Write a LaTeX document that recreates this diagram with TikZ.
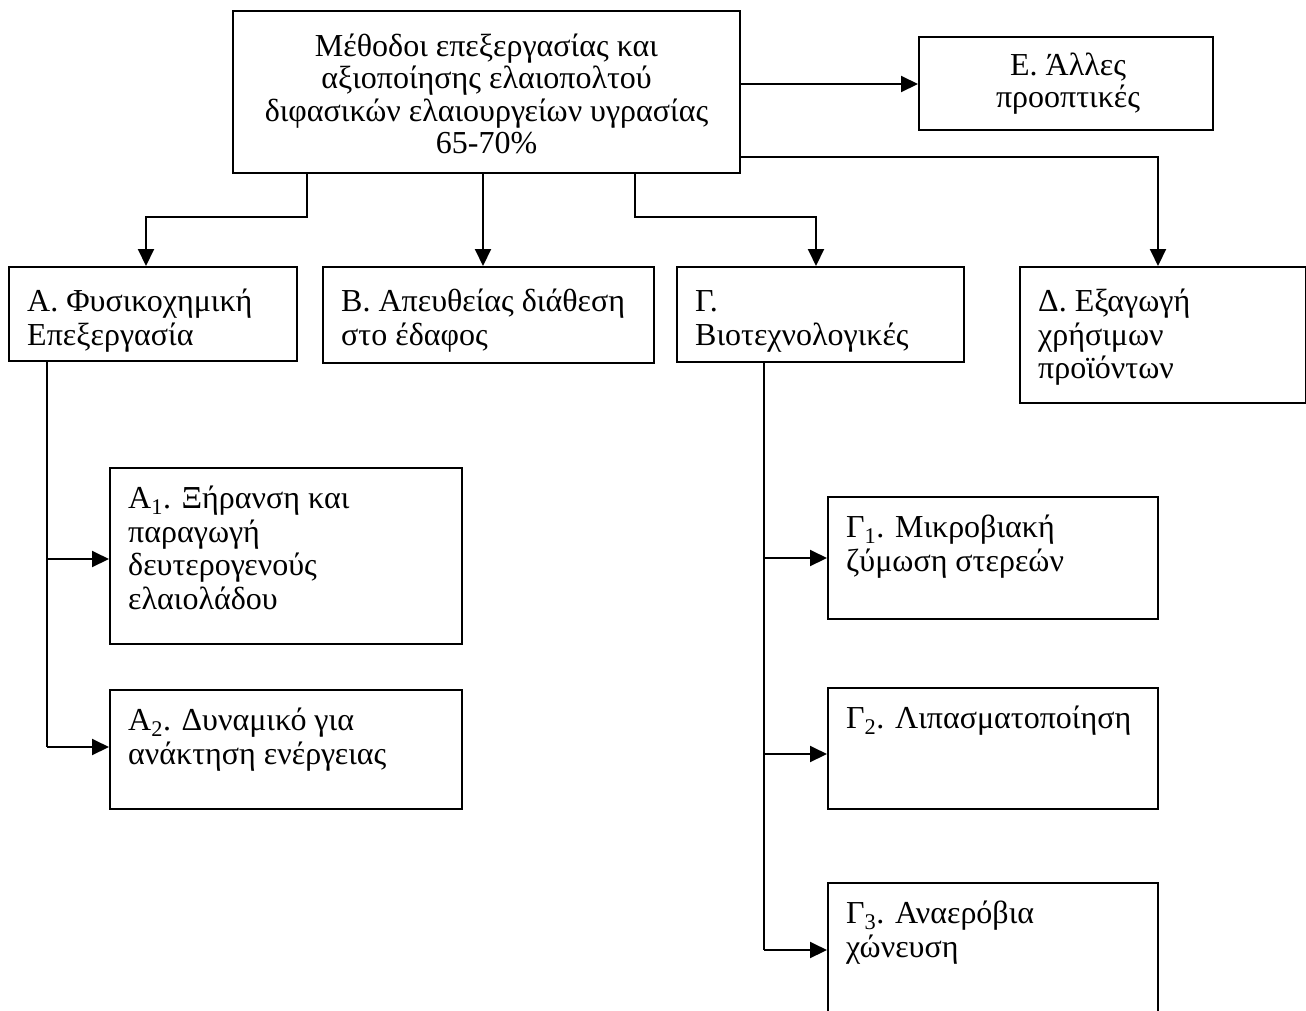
\documentclass[tikz,border=0pt]{standalone}
\usepackage{fontspec}
\setmainfont{Liberation Serif}
\usetikzlibrary{arrows.meta,calc}
\newcommand\fl{\rule{0pt}{27pt}}
\begin{document}
\begin{tikzpicture}[x=1pt,y=-1pt,
  bx/.style={draw,line width=2pt,rectangle,inner sep=0pt,anchor=north west},
  tx/.style={anchor=north west,align=left,inner sep=0pt,font=\fontsize{32}{33.8}\selectfont},
  ctx/.style={align=center,inner sep=0pt,font=\fontsize{32}{32.5}\selectfont},
  ln/.style={line width=2pt},
  arr/.style={ln,-{Triangle[length=17pt,width=16pt]}}]
\useasboundingbox (0,0) rectangle (1306,1010);
\clip (0,0) rectangle (1306,1010);

% boxes
\node[bx,minimum width=507pt,minimum height=162pt] (top) at (232,10) {};
\node[bx,minimum width=294pt,minimum height=93pt] (E) at (918,36) {};
\node[bx,minimum width=288pt,minimum height=94pt] (A) at (8,266) {};
\node[bx,minimum width=331pt,minimum height=96pt] (B) at (322,266) {};
\node[bx,minimum width=287pt,minimum height=95pt] (G) at (676,266) {};
\node[bx,minimum width=286pt,minimum height=136pt] (D) at (1019,266) {};
\node[bx,minimum width=352pt,minimum height=176pt] (A1) at (109,467) {};
\node[bx,minimum width=352pt,minimum height=119pt] (A2) at (109,689) {};
\node[bx,minimum width=330pt,minimum height=122pt] (G1) at (827,496) {};
\node[bx,minimum width=330pt,minimum height=121pt] (G2) at (827,687) {};
\node[bx,minimum width=330pt,minimum height=160pt] (G3) at (827,882) {};

% texts
\node[ctx] (topt) at ($(top.center)+(0,2)$) {Μέθοδοι επεξεργασίας και\\αξιοποίησης ελαιοπολτού\\διφασικών ελαιουργείων υγρασίας\\65-70\%};
\node[ctx] (Et) at ($(E.center)+(2,0)$) {Ε. Άλλες\\προοπτικές};
\node[tx] (At) at ($(A.north west)+(19,18)$) {\fl Α. Φυσικοχημική\\Επεξεργασία};
\node[tx] (Bt) at ($(B.north west)+(19,18)$) {\fl Β. Απευθείας διάθεση\\στο έδαφος};
\node[tx] (Gt) at ($(G.north west)+(19,18)$) {\fl Γ.\\Βιοτεχνολογικές};
\node[tx] (Dt) at ($(D.north west)+(19,18)$) {\fl Δ. Εξαγωγή\\χρήσιμων\\προϊόντων};
\node[tx] (A1t) at ($(A1.north west)+(19,14)$) {\fl Α\textsubscript{1}. Ξήρανση και\\παραγωγή\\δευτερογενούς\\ελαιολάδου};
\node[tx] (A2t) at ($(A2.north west)+(19,14)$) {\fl Α\textsubscript{2}. Δυναμικό για\\ανάκτηση ενέργειας};
\node[tx] (G1t) at ($(G1.north west)+(19,14)$) {\fl Γ\textsubscript{1}. Μικροβιακή\\ζύμωση στερεών};
\node[tx] (G2t) at ($(G2.north west)+(19,14)$) {\fl Γ\textsubscript{2}. Λιπασματοποίηση};
\node[tx] (G3t) at ($(G3.north west)+(19,14)$) {\fl Γ\textsubscript{3}. Αναερόβια\\χώνευση};

% connector points
\coordinate (ka) at (307,217);
\coordinate (kb) at (146,217);
\coordinate (kB) at (483,217);
\coordinate (kg) at (635,217);
\coordinate (kh) at (816,217);
\coordinate (kE) at (739,84);
\coordinate (kd) at (1158,157);
\coordinate (kA1) at (47,559);
\coordinate (kA2) at (47,747);
\coordinate (kG1) at (764,558);
\coordinate (kG2) at (764,754);
\coordinate (kG3) at (764,950);

% connectors
\draw[arr] (top.south -| ka) -- (ka) -- (kb) -- (kb |- A.north);
\draw[arr] (top.south -| kB) -- (kB |- B.north);
\draw[arr] (top.south -| kg) -- (kg) -- (kh) -- (kh |- G.north);
\draw[arr] (kE -| top.east) -- (kE -| E.west);
\draw[arr] (kd -| top.east) -- (kd) -- (kd |- D.north);
\draw[ln] (A.south -| kA1) -- (kA2);
\draw[arr] (kA1) -- (kA1 -| A1.west);
\draw[arr] (kA2) -- (kA2 -| A2.west);
\draw[ln] (G.south -| kG1) -- (kG3);
\draw[arr] (kG1) -- (kG1 -| G1.west);
\draw[arr] (kG2) -- (kG2 -| G2.west);
\draw[arr] (kG3) -- (kG3 -| G3.west);
\end{tikzpicture}
\end{document}
